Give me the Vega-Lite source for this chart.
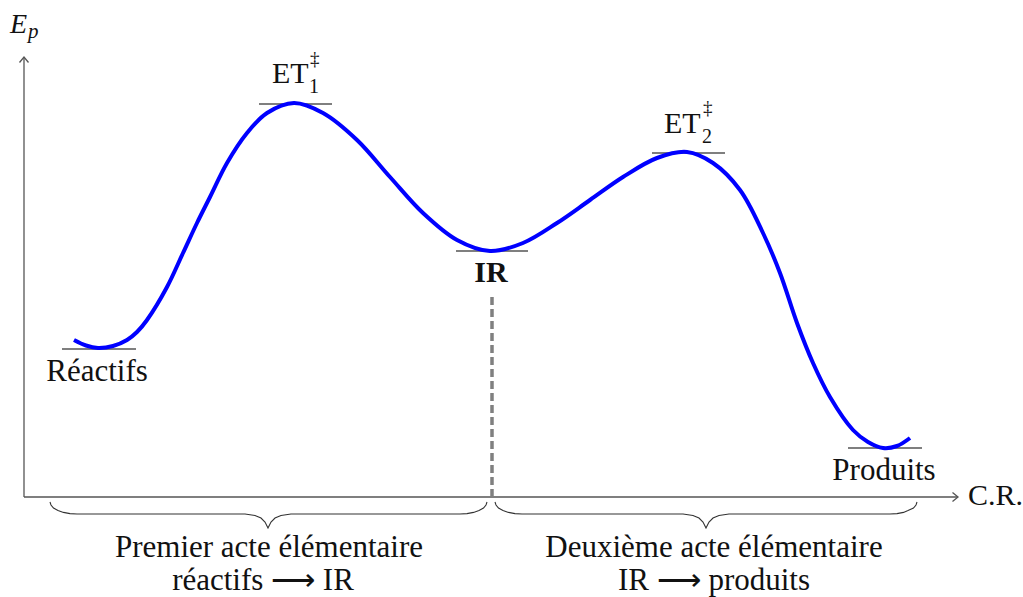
{
  "$schema": "https://vega.github.io/schema/vega-lite/v6.json",
  "width": 1023,
  "height": 597,
  "autosize": "none",
  "padding": 0,
  "background": "white",
  "config": {"view": {"stroke": null}, "text": {"font": "Liberation Serif", "color": "#111111"}},
  "encoding": {
    "x": {"field": "x", "type": "quantitative", "scale": {"domain": [-24, 999], "nice": false, "zero": false}, "axis": null},
    "y": {"field": "y", "type": "quantitative", "scale": {"domain": [-100, 497], "nice": false, "zero": false}, "axis": null}
  },
  "layer": [
    {
      "data": {"values": [{"x": 0, "y": 0, "x2": 0, "y2": 440}, {"x": 0, "y": 0, "x2": 934, "y2": 0}]},
      "mark": {"type": "rule", "color": "#555555", "strokeWidth": 1.3},
      "encoding": {"x2": {"field": "x2"}, "y2": {"field": "y2"}}
    },
    {
      "data": {"values": [{"x": 0, "y": 440}]},
      "mark": {"type": "point", "shape": "M-0.9,1.1L0,0L0.9,1.1", "size": 100, "filled": false, "stroke": "#555555", "strokeWidth": 1.3, "opacity": 1},
      "encoding": {}
    },
    {
      "data": {"values": [{"x": 934, "y": 0}]},
      "mark": {"type": "point", "shape": "M-1.1,-0.9L0,0L-1.1,0.9", "size": 100, "filled": false, "stroke": "#555555", "strokeWidth": 1.3, "opacity": 1},
      "encoding": {}
    },
    {
      "data": {"values": [{"x": 468, "y": 0, "y2": 200}]},
      "mark": {"type": "rule", "color": "#808080", "strokeWidth": 3.5, "strokeDash": [8, 4]},
      "encoding": {"y2": {"field": "y2"}}
    },
    {
      "data": {"values": [
        {"x": 38, "x2": 112, "y": 148},
        {"x": 235, "x2": 308, "y": 393},
        {"x": 432, "x2": 504, "y": 246},
        {"x": 628, "x2": 701, "y": 344},
        {"x": 824, "x2": 898, "y": 49}
      ]},
      "mark": {"type": "rule", "color": "#555555", "strokeWidth": 1.3},
      "encoding": {"x2": {"field": "x2"}}
    },
    {
      "data": {"values": [
        {"x": 50, "y": 157}, {"x": 62, "y": 151.5}, {"x": 74, "y": 149}, {"x": 89, "y": 151}, {"x": 103, "y": 157},
        {"x": 113, "y": 165}, {"x": 123, "y": 177},
        {"x": 143, "y": 210}, {"x": 159, "y": 244}, {"x": 173, "y": 274}, {"x": 186, "y": 300},
        {"x": 203, "y": 334}, {"x": 223, "y": 364}, {"x": 243, "y": 384}, {"x": 270, "y": 394},
        {"x": 299, "y": 384}, {"x": 333, "y": 357}, {"x": 366, "y": 320}, {"x": 399, "y": 284},
        {"x": 433, "y": 257}, {"x": 466, "y": 246}, {"x": 499, "y": 254}, {"x": 533, "y": 274},
        {"x": 566, "y": 297}, {"x": 599, "y": 320}, {"x": 633, "y": 339}, {"x": 663, "y": 345},
        {"x": 689, "y": 334}, {"x": 716, "y": 307}, {"x": 739, "y": 264}, {"x": 756, "y": 224},
        {"x": 773, "y": 174}, {"x": 789, "y": 134}, {"x": 806, "y": 100}, {"x": 829, "y": 67},
        {"x": 844, "y": 55}, {"x": 859, "y": 49}, {"x": 873, "y": 51}, {"x": 886, "y": 59}
      ]},
      "mark": {"type": "line", "interpolate": "catmull-rom", "color": "#0000ff", "strokeWidth": 4, "strokeCap": "butt"},
      "encoding": {}
    },
    {
      "data": {"values": [
        {"b": 1, "x": 26, "y": -5}, {"b": 1, "x": 27, "y": -8}, {"b": 1, "x": 29.5, "y": -11}, {"b": 1, "x": 34, "y": -13.5},
        {"b": 1, "x": 39.5, "y": -15.4}, {"b": 1, "x": 46, "y": -16.6}, {"b": 1, "x": 53, "y": -17}, {"b": 1, "x": 221, "y": -17},
        {"b": 1, "x": 231, "y": -18.5}, {"b": 1, "x": 237, "y": -21}, {"b": 1, "x": 241, "y": -25}, {"b": 1, "x": 244, "y": -31},
        {"b": 1, "x": 247, "y": -25}, {"b": 1, "x": 251, "y": -21}, {"b": 1, "x": 257, "y": -18.5}, {"b": 1, "x": 267, "y": -17},
        {"b": 1, "x": 436, "y": -17}, {"b": 1, "x": 443, "y": -16.6}, {"b": 1, "x": 449.5, "y": -15.4}, {"b": 1, "x": 455, "y": -13.5},
        {"b": 1, "x": 459.5, "y": -11}, {"b": 1, "x": 462, "y": -8}, {"b": 1, "x": 463, "y": -5},
        {"b": 2, "x": 471, "y": -5}, {"b": 2, "x": 472, "y": -8}, {"b": 2, "x": 474.5, "y": -11}, {"b": 2, "x": 479, "y": -13.5},
        {"b": 2, "x": 484.5, "y": -15.4}, {"b": 2, "x": 491, "y": -16.6}, {"b": 2, "x": 498, "y": -17}, {"b": 2, "x": 659, "y": -17},
        {"b": 2, "x": 669, "y": -18.5}, {"b": 2, "x": 675, "y": -21}, {"b": 2, "x": 679, "y": -25}, {"b": 2, "x": 682, "y": -31},
        {"b": 2, "x": 685, "y": -25}, {"b": 2, "x": 689, "y": -21}, {"b": 2, "x": 695, "y": -18.5}, {"b": 2, "x": 705, "y": -17},
        {"b": 2, "x": 866, "y": -17}, {"b": 2, "x": 873, "y": -16.6}, {"b": 2, "x": 879.5, "y": -15.4}, {"b": 2, "x": 884, "y": -13.5},
        {"b": 2, "x": 889.5, "y": -11}, {"b": 2, "x": 892, "y": -8}, {"b": 2, "x": 893, "y": -5}
      ]},
      "mark": {"type": "line", "interpolate": "linear", "color": "#333333", "strokeWidth": 1.1},
      "encoding": {"detail": {"field": "b"}}
    },
    {
      "data": {"values": [
        {"x": 73, "y": 116, "t": "Réactifs"},
        {"x": 860, "y": 17, "t": "Produits"},
        {"x": 245, "y": -60, "t": "Premier acte élémentaire"},
        {"x": 239, "y": -93, "t": "réactifs  ⟶ IR"},
        {"x": 690, "y": -60, "t": "Deuxième acte élémentaire"},
        {"x": 690, "y": -93, "t": "IR ⟶ produits"}
      ]},
      "mark": {"type": "text", "fontSize": 31, "align": "center", "baseline": "alphabetic"},
      "encoding": {"text": {"field": "t"}}
    },
    {
      "data": {"values": [
        {"x": 248, "y": 414, "t": "ET"},
        {"x": 640, "y": 364, "t": "ET"},
        {"x": 944, "y": -8, "t": "C.R."}
      ]},
      "mark": {"type": "text", "fontSize": 30, "align": "left", "baseline": "alphabetic"},
      "encoding": {"text": {"field": "t"}}
    },
    {
      "data": {"values": [{"x": 467, "y": 215, "t": "IR"}]},
      "mark": {"type": "text", "fontSize": 30, "fontWeight": "bold", "align": "center", "baseline": "alphabetic"},
      "encoding": {"text": {"field": "t"}}
    },
    {
      "data": {"values": [{"x": 286, "y": 432, "t": "‡"}, {"x": 679, "y": 383, "t": "‡"}]},
      "mark": {"type": "text", "fontSize": 19, "align": "left", "baseline": "alphabetic"},
      "encoding": {"text": {"field": "t"}}
    },
    {
      "data": {"values": [{"x": 285, "y": 404, "t": "1"}, {"x": 678, "y": 354, "t": "2"}]},
      "mark": {"type": "text", "fontSize": 20, "align": "left", "baseline": "alphabetic"},
      "encoding": {"text": {"field": "t"}}
    },
    {
      "data": {"values": [{"x": -14, "y": 464, "t": "E"}]},
      "mark": {"type": "text", "fontSize": 28, "fontStyle": "italic", "align": "left", "baseline": "alphabetic"},
      "encoding": {"text": {"field": "t"}}
    },
    {
      "data": {"values": [{"x": 4, "y": 459, "t": "p"}]},
      "mark": {"type": "text", "fontSize": 21, "fontStyle": "italic", "align": "left", "baseline": "alphabetic"},
      "encoding": {"text": {"field": "t"}}
    }
  ]
}
